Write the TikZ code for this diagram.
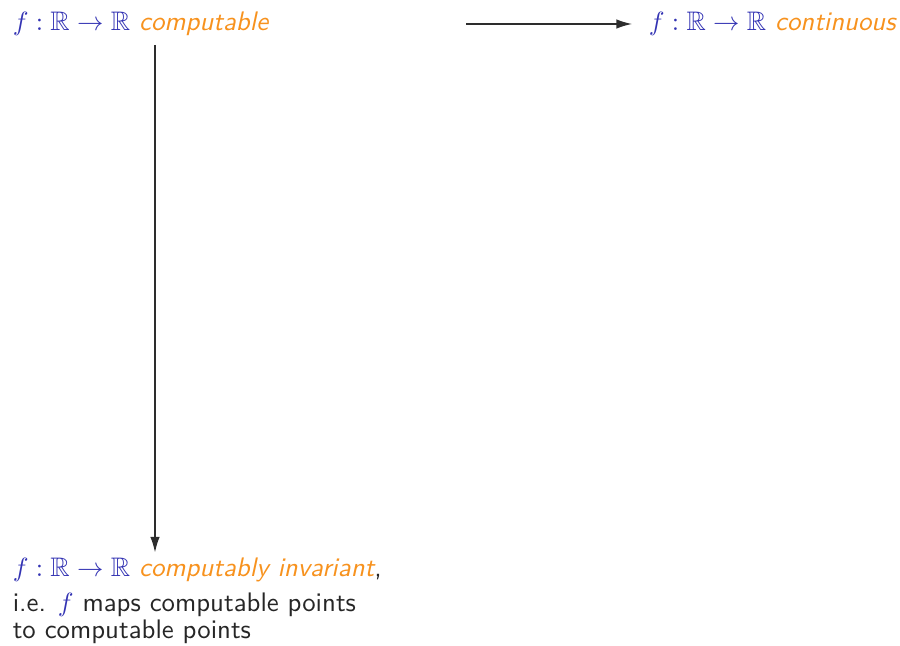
\documentclass[tikz,border=0pt]{standalone}
\usepackage{amssymb}
\usetikzlibrary{arrows.meta}

\definecolor{mathblue}{RGB}{51,51,179}
\definecolor{accentorange}{RGB}{247,146,30}
\definecolor{textgray}{RGB}{38,38,38}
\definecolor{linegray}{RGB}{45,45,45}

\newcommand{\fmap}{\textcolor{mathblue}{$f:\mathbb{R}\to\mathbb{R}$}}
\newcommand{\prop}[1]{\textcolor{accentorange}{\itshape #1}}

\begin{document}
\begin{tikzpicture}[x=0.01333cm, y=-0.01333cm, semithick, >={Latex[length=6pt,width=3.6pt]}, font=\sffamily\fontsize{10.17}{12}\selectfont, text=textgray]

        % ==========================================
        % cornice (900 x 646)
        % ==========================================
        \useasboundingbox (0,0) rectangle (900,646);

        % ==========================================
        % 1. RIGA SUPERIORE
        % ==========================================
        \node[anchor=base west, inner sep=0pt] (computable) at (12,31) {\fmap\ \prop{computable}};
        \node[anchor=base west, inner sep=0pt] (continuous) at (648,31) {\fmap\ \prop{continuous}};

        % Freccia verso continuous
        \coordinate (hstart) at (466,24);
        \draw[->, linegray, shorten >=6pt] (hstart) -- (hstart -| continuous.west);

        % ==========================================
        % 2. RIGA INFERIORE
        % ==========================================
        \node[anchor=base west, inner sep=0pt] (invariant) at (12,576) {\fmap\ \prop{computably invariant},};
        \node[anchor=base west, inner sep=0pt, align=left] (remark) at (12,638)
            {i.e. \textcolor{mathblue}{$f$} maps computable points\\[-2pt] to computable points};

        % Freccia verticale
        \coordinate (vline) at (155,0);
        \draw[->, linegray, shorten <=3pt, shorten >=1.5pt] (computable.south -| vline) -- (invariant.north -| vline);

\end{tikzpicture}
\end{document}
